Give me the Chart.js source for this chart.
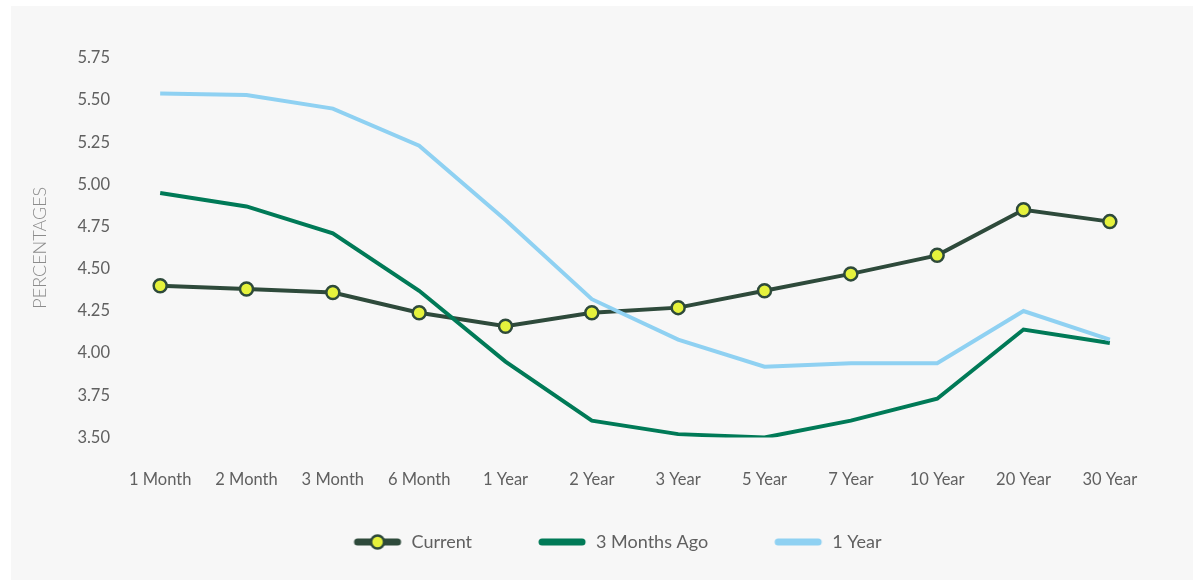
<!DOCTYPE html>
<html>
<head>
<meta charset="utf-8">
<title>Yield Curve</title>
<script src="https://cdn.jsdelivr.net/npm/chart.js@4.4.1/dist/chart.umd.min.js"></script>
<style>
  html, body {
    margin: 0;
    padding: 0;
    background: #ffffff;
  }
  #wrap {
    position: absolute;
    left: 11px;
    top: 6px;
    width: 1182px;
    height: 574px;
    background: #f7f7f7;
  }
</style>
</head>
<body>
<div id="wrap">
  <canvas id="lineChart"></canvas>
</div>

<script>
// Data ------------------------------------------------------------------------
const maturities = ['1 Month', '2 Month', '3 Month', '6 Month', '1 Year', '2 Year',
  '3 Year', '5 Year', '7 Year', '10 Year', '20 Year', '30 Year'];

const currentYields = [4.40, 4.38, 4.36, 4.24, 4.16, 4.24, 4.27, 4.37, 4.47, 4.58, 4.85, 4.78];
const threeMonthsAgoYields = [4.95, 4.87, 4.71, 4.37, 3.95, 3.60, 3.52, 3.50, 3.60, 3.73, 4.14, 4.06];
const oneYearAgoYields = [5.54, 5.53, 5.45, 5.23, 4.79, 4.32, 4.08, 3.92, 3.94, 3.94, 4.25, 4.08];

const seriesNames = ['Current', '3 Months Ago', '1 Year'];

const yMin = 3.5;
const yMax = 5.75;
const yStep = 0.25;

// Colours
const currentColor = '#2e4a3b';
const dotColor = '#e5f23c';
const threeMonthsColor = '#007a57';
const oneYearColor = '#8fd1f2';
const textColor = '#606060';

const FONT = 'Lato, "Open Sans", sans-serif';

// Legend icons ----------------------------------------------------------------
const ICON_GAP = 55;
const legendIcons = [
  buildLegendIcon(currentColor, true),
  buildLegendIcon(threeMonthsColor, false),
  buildLegendIcon(oneYearColor, false)
];

renderLineChart();

//Functions start---------------------------------------------------------------

// small canvas used as the legend point style: a thick rounded line,
// optionally with the marker dot in the middle
function buildLegendIcon(color, withDot) {
  const c = document.createElement('canvas');
  c.width = ICON_GAP + 50;
  c.height = 20;
  const ctx = c.getContext('2d');

  ctx.strokeStyle = color;
  ctx.lineWidth = 7;
  ctx.lineCap = 'round';
  ctx.beginPath();
  ctx.moveTo(ICON_GAP + 5, 10);
  ctx.lineTo(ICON_GAP + 45, 10);
  ctx.stroke();

  if (withDot) {
    ctx.beginPath();
    ctx.arc(ICON_GAP + 25, 10, 6.5, 0, Math.PI * 2);
    ctx.fillStyle = dotColor;
    ctx.fill();
    ctx.lineWidth = 2.5;
    ctx.strokeStyle = color;
    ctx.stroke();
  }
  return c;
}

function renderLineChart() {
  const ctx = document.getElementById('lineChart');

  new Chart(ctx, {
    type: 'line',
    data: {
      labels: maturities,
      datasets: [{
        label: seriesNames[0],
        data: currentYields,
        borderColor: currentColor,
        backgroundColor: dotColor,
        borderWidth: 4,
        pointRadius: 6.5,
        pointBorderWidth: 2.5,
        pointBackgroundColor: dotColor,
        pointBorderColor: currentColor,
        order: 3
      }, {
        label: seriesNames[1],
        data: threeMonthsAgoYields,
        borderColor: threeMonthsColor,
        backgroundColor: threeMonthsColor,
        borderWidth: 4,
        pointRadius: 0,
        order: 2
      }, {
        label: seriesNames[2],
        data: oneYearAgoYields,
        borderColor: oneYearColor,
        backgroundColor: oneYearColor,
        borderWidth: 4,
        pointRadius: 0,
        order: 1
      }]
    },
    options: {
      responsive: true,
      maintainAspectRatio: false,
      animation: false,
      layout: {
        padding: { top: 52, left: 15, right: 40, bottom: 19 }
      },
      plugins: {
        tooltip: { enabled: false },
        legend: {
          position: 'bottom',
          labels: {
            usePointStyle: true,
            pointStyleWidth: ICON_GAP + 50,
            padding: 10,
            color: textColor,
            font: { family: FONT, size: 18 },
            sort: (a, b) => a.datasetIndex - b.datasetIndex,
            generateLabels: (chart) => {
              const items = Chart.defaults.plugins.legend.labels.generateLabels(chart);
              items.forEach(item => {
                item.pointStyle = legendIcons[item.datasetIndex];
              });
              return items;
            }
          }
        }
      },
      scales: {
        x: {
          offset: true,
          grid: { display: false, drawTicks: false },
          border: { display: false },
          ticks: {
            color: textColor,
            padding: 32,
            maxRotation: 0,
            autoSkip: false,
            font: { family: FONT, size: 16.5 }
          },
          afterFit: (scale) => { scale.height = 85.5; }
        },
        y: {
          min: yMin,
          max: yMax,
          grid: { display: false, drawTicks: false },
          border: { display: false },
          ticks: {
            stepSize: yStep,
            padding: 7,
            color: textColor,
            font: { family: FONT, size: 16.5 },
            callback: (value) => value.toFixed(2)
          },
          title: {
            display: true,
            text: 'PERCENTAGES',
            color: '#8c8c8c',
            padding: { top: 3, bottom: 0 },
            font: { family: FONT, size: 18, weight: 300 }
          },
          afterFit: (scale) => { scale.width = 91; }
        }
      }
    }
  });
}
//Functions end-----------------------------------------------------------------
</script>
</body>
</html>
